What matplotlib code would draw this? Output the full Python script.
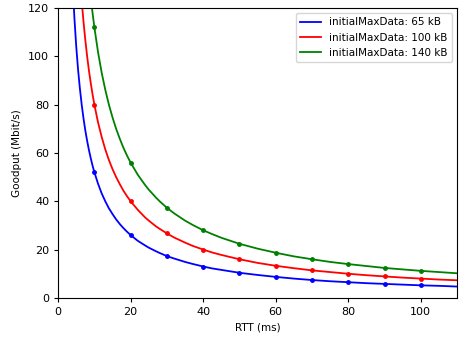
import matplotlib
matplotlib.use("Agg")
import matplotlib.pyplot as plt

# RTT grid (ms) and goodput (Mbit/s)
rtt = [4, 4.5, 5, 5.5, 6, 6.5, 7, 7.5, 8, 8.5, 9, 9.5, 10, 11, 12, 13, 14, 15, 16,
       17, 18, 19, 20, 22, 24, 25, 27, 28, 30, 32, 35, 37, 40, 42.5, 45, 50, 55,
       60, 65, 70, 75, 80, 85, 90, 95, 100, 105, 110]
gp_65 = [130, 115.6, 104, 94.5, 86.7, 80, 74.3, 69.3, 65, 61.2, 57.8, 54.7, 52,
         47.3, 43.3, 40, 37.1, 34.7, 32.5, 30.6, 28.9, 27.4, 26, 23.6, 21.7, 20.8,
         19.3, 18.6, 17.3, 16.3, 14.9, 14.1, 13, 12.2, 11.6, 10.4, 9.5, 8.7, 8,
         7.4, 6.9, 6.5, 6.1, 5.8, 5.5, 5.2, 5.0, 4.7]
gp_100 = [200, 177.8, 160, 145.5, 133.3, 123.1, 114.3, 106.7, 100, 94.1, 88.9,
          84.2, 80, 72.7, 66.7, 61.5, 57.1, 53.3, 50, 47.1, 44.4, 42.1, 40, 36.4,
          33.3, 32, 29.6, 28.6, 26.7, 25, 22.9, 21.6, 20, 18.8, 17.8, 16, 14.5,
          13.3, 12.3, 11.4, 10.7, 10, 9.4, 8.9, 8.4, 8, 7.6, 7.3]
gp_140 = [280, 248.9, 224, 203.6, 186.7, 172.3, 160, 149.3, 140, 131.8, 124.4,
          117.9, 112, 101.8, 93.3, 86.2, 80, 74.7, 70, 65.9, 62.2, 58.9, 56, 50.9,
          46.7, 44.8, 41.5, 40, 37.3, 35, 32, 30.3, 28, 26.4, 24.9, 22.4, 20.4,
          18.7, 17.2, 16, 14.9, 14, 13.2, 12.4, 11.8, 11.2, 10.7, 10.2]

# measured points
rtt_pts = [10, 20, 30, 40, 50, 60, 70, 80, 90, 100]
pts_65 = [52, 26, 17.3, 13, 10.4, 8.7, 7.4, 6.5, 5.8, 5.2]
pts_100 = [80, 40, 26.7, 20, 16, 13.3, 11.4, 10, 8.9, 8]
pts_140 = [112, 56, 37.3, 28, 22.4, 18.7, 16, 14, 12.4, 11.2]

labels = ["initialMaxData: 65 kB", "initialMaxData: 100 kB", "initialMaxData: 140 kB"]
colors = ["blue", "red", "green"]

fig = plt.figure(figsize=(4.65, 3.37), dpi=100)
ax = fig.add_axes([0.125, 0.116, 0.858, 0.86])
for gp, pts, lab, col in zip([gp_65, gp_100, gp_140], [pts_65, pts_100, pts_140], labels, colors):
    ax.plot(rtt, gp, color=col, lw=1.3, label=lab)
    ax.plot(rtt_pts, pts, "o", color=col, ms=2.5)

ax.set_xlim(0, 110); ax.set_ylim(0, 120)
ax.set_xlabel("RTT (ms)", fontsize=7.5)
ax.set_ylabel("Goodput (Mbit/s)", fontsize=7.5)
ax.tick_params(labelsize=8, length=3)
ax.legend(fontsize=7.5, loc="upper right")
fig.savefig("out.png", dpi=100)
